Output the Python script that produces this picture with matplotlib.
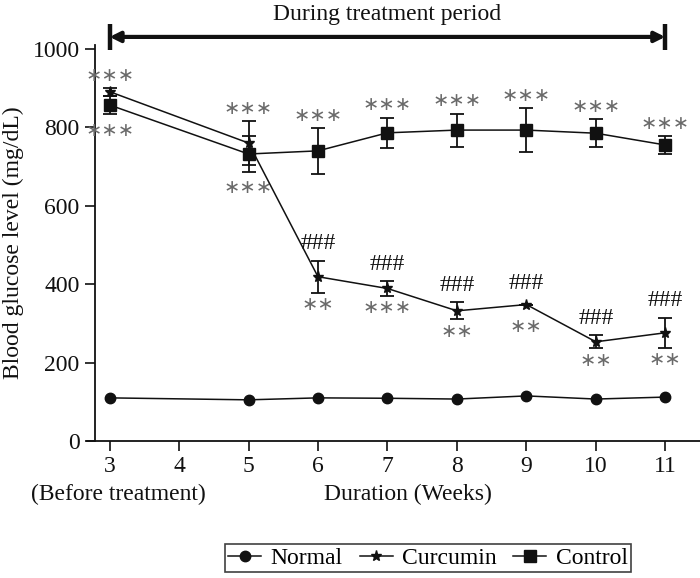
import matplotlib
matplotlib.use("Agg")
import matplotlib.pyplot as plt
from matplotlib.lines import Line2D
from matplotlib.transforms import blended_transform_factory

plt.rcParams['font.family'] = ['Liberation Serif', 'DejaVu Serif']

weeks = [3, 5, 6, 7, 8, 9, 10, 11]
normal = [110, 105, 110, 109, 107, 115, 107, 112]
curcumin = [891, 760, 419, 389, 332, 348, 253, 276]
curcumin_err = [10, 56, 41, 19, 22, 0, 17, 38]
control = [857, 732, 740, 786, 793, 793, 785, 755]
control_err = [23, 45, 58, 39, 42, 56, 35, 22]

# significance labels
ctrl_above = ['', '***', '***', '***', '***', '***', '***', '***']
curc_above_star = ['***', '', '', '', '', '', '', '']
ctrl_below = ['***', '***', '', '', '', '', '', '']
curc_hash = ['', '', '###', '###', '###', '###', '###', '###']
curc_below = ['', '', '**', '***', '**', '**', '**', '**']

xticks = [3, 4, 5, 6, 7, 8, 9, 10, 11]
yticks = [0, 200, 400, 600, 800, 1000]

fig = plt.figure(figsize=(7.0, 5.78), dpi=100)
ax = fig.add_axes([95/700, (578-441)/578, 605/700, 396/578])

lw = 1.1
ink = '#111111'
ax.plot(weeks, normal, '-o', color=ink, lw=lw, ms=7.5, zorder=3)
ax.errorbar(weeks, curcumin, yerr=curcumin_err, fmt='-*', color=ink, lw=lw,
            ms=8, capsize=5, elinewidth=1.3, capthick=1.3, zorder=3)
ax.errorbar(weeks, control, yerr=control_err, fmt='-s', color=ink, lw=lw,
            ms=8.5, capsize=5, elinewidth=1.3, capthick=1.3, zorder=3)

ax.set_xlim(2.79, 11.5)
ax.set_ylim(0, 1010)
ax.set_xticks(xticks)
ax.set_yticks(yticks)
ax.tick_params(axis='both', labelsize=17, length=7, width=1.2, direction='out', pad=4,
               colors=ink)
for s in ['top', 'right']:
    ax.spines[s].set_visible(False)
for s in ['left', 'bottom']:
    ax.spines[s].set_linewidth(1.3)
    ax.spines[s].set_color(ink)
ax.spines['bottom'].set_bounds(2.79 - 8/69.4, 11.5)

ax.set_ylabel('Blood glucose level (mg/dL)', fontsize=17, labelpad=6, color=ink)
ax.text(0.5 + (407-397)/605, -0.135, 'Duration (Weeks)', transform=ax.transAxes,
        ha='center', va='center', fontsize=17, color=ink)
trans = blended_transform_factory(ax.transData, ax.transAxes)
ax.text(3.12, -0.135, '(Before treatment)', transform=trans, ha='center', va='center',
        fontsize=17, color=ink)

gray = '#6a6a6a'
afs = 14
hfs = 17
px = 72/100


def stars(s):
    return '\u2217' * len(s)


def star_text(label, xy, dy):
    ax.annotate(stars(label), xy, xytext=(0, dy*px), textcoords='offset points',
                ha='center', va='center', fontsize=afs, color=gray, family='DejaVu Sans')


for i, w in enumerate(weeks):
    if ctrl_above[i]:
        top = control[i] + control_err[i]
        if i == 1:
            top = max(top, curcumin[i] + curcumin_err[i])
        star_text(ctrl_above[i], (w, top), 13)
    if curc_above_star[i]:
        star_text(curc_above_star[i], (w, curcumin[i] + curcumin_err[i]), 12)
    if ctrl_below[i]:
        bot = control[i] - control_err[i]
        if i == 1:
            bot = min(bot, curcumin[i] - curcumin_err[i])
        star_text(ctrl_below[i], (w, bot), -16)
    if curc_hash[i]:
        e = curcumin_err[i] if curcumin_err[i] > 0 else 10
        ax.annotate(curc_hash[i], (w, curcumin[i] + e), xytext=(0, 17*px),
                    textcoords='offset points', ha='center', va='center', fontsize=hfs,
                    color=ink)
    if curc_below[i]:
        e = curcumin_err[i] if curcumin_err[i] > 0 else 25
        star_text(curc_below[i], (w, curcumin[i] - e), -12)

# treatment period arrow
y_arrow = (441-37)/392*1000/1010
ax.annotate('', xy=(11, y_arrow), xytext=(3, y_arrow), xycoords=trans, textcoords=trans,
            arrowprops=dict(arrowstyle='<|-|>,head_length=0.6,head_width=0.3', lw=3,
                            color=ink, shrinkA=0, shrinkB=0), annotation_clip=False)
yb0 = (441-50)/392*1000/1010
yb1 = (441-24)/392*1000/1010
for xv in (3, 11):
    ax.plot([xv, xv], [yb0, yb1], transform=trans, color=ink, lw=3.2, clip_on=False,
            solid_capstyle='butt')
ax.text(7, (441-15)/392*1000/1010, 'During treatment period', transform=trans,
        ha='center', va='center', fontsize=17, color=ink)

handles = [Line2D([], [], color=ink, lw=lw, marker='o', ms=7.5),
           Line2D([], [], color=ink, lw=lw, marker='*', ms=8),
           Line2D([], [], color=ink, lw=lw, marker='s', ms=8)]
leg = fig.legend(handles, ['Normal', 'Curcumin', 'Control'], loc='center',
                 bbox_to_anchor=(428/700, 1-558/578), ncol=3, fontsize=17,
                 frameon=True, fancybox=False, edgecolor=ink, handlelength=1.4,
                 handletextpad=0.4, columnspacing=0.7, borderpad=0.15)
leg.get_frame().set_linewidth(1.2)

fig.savefig('out.png', dpi=100)
